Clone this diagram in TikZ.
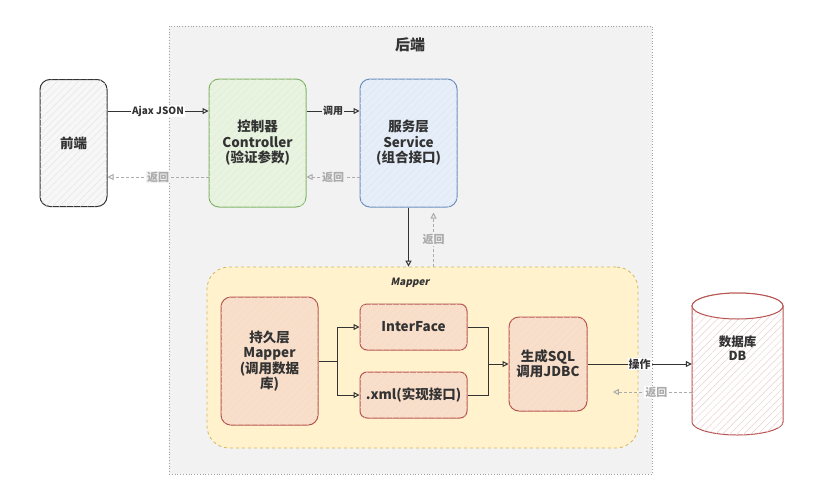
\documentclass[tikz,border=0pt]{standalone}
\usepackage{fontspec}
\setmainfont{Noto Sans CJK SC}
\usetikzlibrary{arrows.meta,patterns.meta,positioning}
\definecolor{bgback}{HTML}{F2F2F2}
\definecolor{bordback}{HTML}{A0A0A0}
\definecolor{gline}{HTML}{82B366}
\definecolor{gfill}{HTML}{E8F3E0}
\definecolor{bline}{HTML}{6C8EBF}
\definecolor{bfill}{HTML}{E6EEF9}
\definecolor{rline}{HTML}{B85450}
\definecolor{rfill}{HTML}{FADFC8}
\definecolor{yfill}{HTML}{FFF2CC}
\definecolor{yline}{HTML}{D6B656}
\definecolor{txt}{HTML}{333333}
\definecolor{ret}{HTML}{ABABAB}
\tikzset{
  boxbase/.style={draw, rounded corners=10pt, line width=1pt, align=center,
    text=txt, font=\fontsize{13.5}{15.5}\selectfont\bfseries, inner sep=2pt},
  hatch/.style={postaction={pattern={Lines[angle=45,distance=5pt,line width=0.45pt]}, pattern color=#1}},
  greenbox/.style={boxbase, draw=gline, fill=gfill, hatch=gline!25},
  bluebox/.style={boxbase, draw=bline, fill=bfill, hatch=bline!22},
  redbox/.style={boxbase, draw=rline, fill=rfill, hatch=rline!22},
  plainbox/.style={boxbase, draw=txt, fill=white!97!black, hatch=black!10},
  arr/.style={draw=txt, line width=1pt, -{Triangle[open,length=6pt,width=6pt]}},
  retarr/.style={draw=ret, line width=1pt, dashed, dash pattern=on 3pt off 2pt, -{Triangle[open,length=6pt,width=6pt]}},
  lbl/.style={font=\fontsize{10}{12}\selectfont\bfseries, text=txt, inner sep=1pt},
  retlbl/.style={font=\fontsize{11}{13}\selectfont\bfseries, text=ret, inner sep=1pt},
}
\begin{document}
\begin{tikzpicture}[x=1pt,y=-1pt]
\useasboundingbox[fill=white] (0,0) rectangle (816,485);
% backend region
\node[draw=bordback, dotted, line width=0.8pt, fill=bgback, minimum width=483pt, minimum height=448pt, inner sep=0] (back) at (410.5,250) {};
\node[font=\fontsize{15}{17}\selectfont\bfseries, text=txt] (title) at (410,45) {后端};
% mapper region
\node[draw=yline, dashed, line width=0.8pt, fill=yfill, rounded corners=22pt, minimum width=431pt, minimum height=181pt, inner sep=0] (mapper) at (422.5,357.5) {};
\node[font=\fontsize{10}{12}\selectfont\bfseries\addfontfeatures{FakeSlant=0.2}, text=txt] (maptitle) at (410,283) {Mapper};
% boxes
\node[plainbox, minimum width=67pt, minimum height=127pt] (fe) at (73.5,143) {前端};
\node[greenbox, minimum width=97pt, minimum height=128pt] (ctrl) at (257.5,143) {控制器\\Controller\\(验证参数)};
\node[bluebox, minimum width=97pt, minimum height=128pt] (svc) at (408.5,143) {服务层\\Service\\(组合接口)};
\node[redbox, minimum width=97pt, minimum height=128pt] (pers) at (269.5,361) {持久层\\Mapper\\(调用数据\\库)};
\node[redbox, minimum width=107pt, minimum height=46pt, rounded corners=7pt] (iface) at (413.5,327) {InterFace};
\node[redbox, minimum width=107pt, minimum height=46pt, rounded corners=7pt] (xml) at (413.5,395) {.xml(实现接口)};
\node[redbox, minimum width=78pt, minimum height=94pt] (sql) at (548,364) {生成SQL\\调用JDBC};
% database cylinder
\node[minimum width=91pt, minimum height=142pt, inner sep=0] (db) at (737.5,364) {};
\draw[draw=rline, line width=1pt, fill=white, hatch=rline!28]
  (692,306) -- (692,422) arc[start angle=180, end angle=360, x radius=45.5pt, y radius=13pt] -- (783,306)
  arc[start angle=0, end angle=180, x radius=45.5pt, y radius=13pt] -- cycle;
\draw[draw=rline, line width=1pt, fill=white] (737.5,306) ellipse [x radius=45.5pt, y radius=13pt];
\node[font=\fontsize{12.5}{14.5}\selectfont\bfseries, text=txt, align=center] (dblabel) at (737.5,348) {数据库\\DB};
% forward arrows
\draw[arr] ([yshift=32pt]fe.east) -- node[lbl, fill=white] (l1) {Ajax JSON} ([yshift=32pt]ctrl.west);
\draw[arr] ([yshift=32pt]ctrl.east) -- node[lbl, fill=bgback] (l2) {调用} ([yshift=32pt]svc.west);
% return arrows
\draw[retarr] ([yshift=-34pt]ctrl.west) -- node[retlbl, fill=bgback] (r1) {返回} ([yshift=-34pt]fe.east);
\draw[retarr] ([yshift=-34pt]svc.west) -- node[retlbl, fill=bgback] (r2) {返回} ([yshift=-34pt]ctrl.east);
% service to mapper
\draw[arr] (svc.south) -- (svc.south |- mapper.north);
\draw[retarr] ([xshift=25pt]svc.south |- mapper.north) -- node[retlbl, fill=bgback] (r3) {返回} ([xshift=25pt,yshift=-5pt]svc.south);
% mapper branches
\coordinate (split) at ([xshift=19pt]pers.east);
\draw[arr] (pers.east) -- (split) |- (iface.west);
\draw[arr] (split) |- (xml.west);
\coordinate (join) at ([xshift=21pt]iface.east |- sql.west);
\draw[txt, line width=1pt] (iface.east) -| (join);
\draw[txt, line width=1pt] (xml.east) -| (join);
\draw[arr] (join) -- (sql.west);
% to db
\draw[arr] (sql.east) -- node[lbl, fill=white, font=\fontsize{11}{13}\selectfont\bfseries] (l3) {操作} (db.west);
\draw[retarr] ([yshift=-28pt]db.west) -- node[retlbl, fill=white, pos=0.45] (r4) {返回} ++(-79,0);
\end{tikzpicture}
\end{document}
